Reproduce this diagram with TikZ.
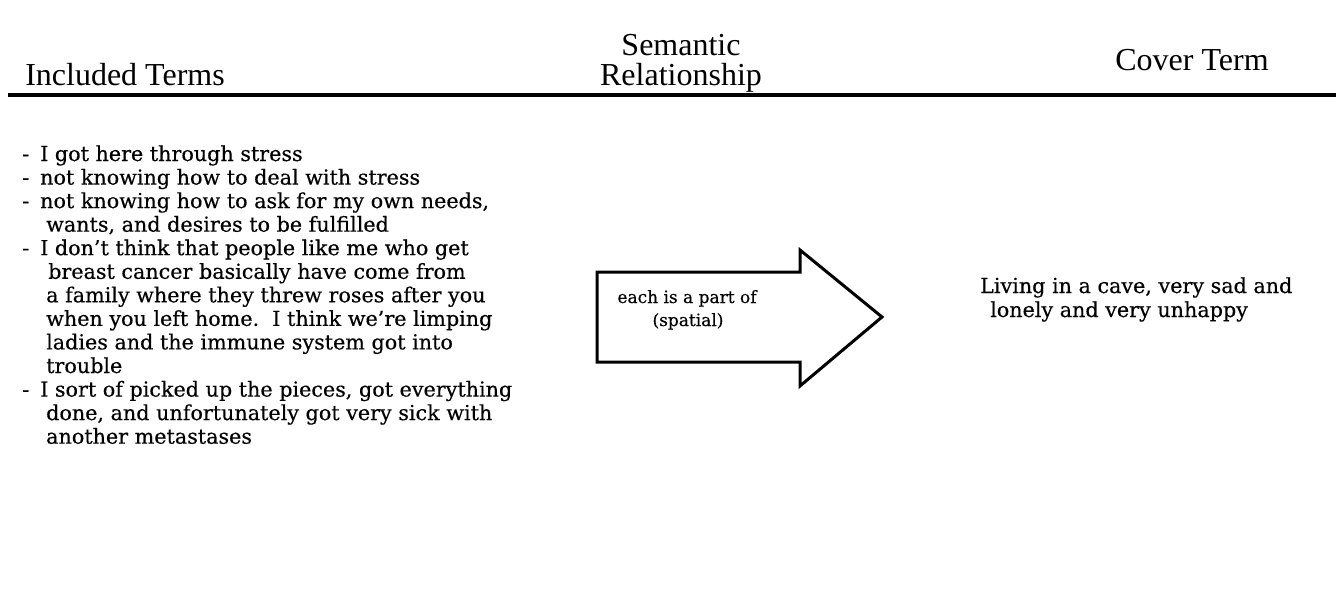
\documentclass[tikz,border=0pt]{standalone}
\usepackage{fontspec}
\setmainfont{DejaVu Serif}[FakeBold=0.4]
\newfontfamily\headfont{Liberation Serif}
\begin{document}
\begin{tikzpicture}[x=1pt,y=-1pt,
  head/.style={font=\headfont\fontsize{32}{36}\selectfont, inner sep=0pt, anchor=base},
  item/.style={font=\fontsize{20.7}{23.6}\selectfont, inner sep=0pt, anchor=base west},
  label/.style={font=\fontsize{17}{23}\selectfont, inner sep=0pt, anchor=base},
  rule/.style={line width=3.5pt},
  bigarrow/.style={line width=3pt, line join=miter}]
\useasboundingbox (0,0) rectangle (1336,615);

% column headings
\node[head] (inc) at (125,86) {Included Terms};
\node[head] (sem) at (681,56) {Semantic};
\node[head] (rel) at (681,86) {Relationship};
\node[head] (cov) at (1192,71) {Cover Term};

% heading rule
\coordinate (ruleL) at (8,95);
\coordinate (ruleR) at (1336,95);
\draw[rule] (ruleL) -- (ruleR);

% included terms
\node[item] (d1) at (22,161) {-};
\node[item] (l1) at (40,161) {I got here through stress};
\node[item] (d2) at (22,184.6) {-};
\node[item] (l2) at (40,184.6) {not knowing how to deal with stress};
\node[item] (d3) at (22,208.1) {-};
\node[item] (l3) at (40,208.1) {not knowing how to ask for my own needs,};
\node[item] (l4) at (46,231.7) {wants, and desires to be fulfilled};
\node[item] (d5) at (22,255.2) {-};
\node[item] (l5) at (40,255.2) {I don't think that people like me who get};
\node[item] (l6) at (48,278.8) {breast cancer basically have come from};
\node[item] (l7) at (46,302.3) {a family where they threw roses after you};
\node[item] (l8) at (46,325.9) {when you left home.\ \ I think we're limping};
\node[item] (l9) at (46,349.4) {ladies and the immune system got into};
\node[item] (l10) at (46,373) {trouble};
\node[item] (d11) at (22,396.6) {-};
\node[item] (l11) at (40,396.6) {I sort of picked up the pieces, got everything};
\node[item] (l12) at (46,420.1) {done, and unfortunately got very sick with};
\node[item] (l13) at (46,443.7) {another metastases};

% semantic relationship arrow
\draw[bigarrow] (597,272) -- (800,272) -- (800,250) -- (882,317)
  -- (800,386) -- (800,362) -- (597,362) -- cycle;
\node[label] (rel1) at (687,303) {each is a part of};
\node[label] (rel2) at (688,326) {(spatial)};

% cover term
\node[item] (c1) at (980,293) {Living in a cave, very sad and};
\node[item] (c2) at (990,317) {lonely and very unhappy};
\end{tikzpicture}
\end{document}
